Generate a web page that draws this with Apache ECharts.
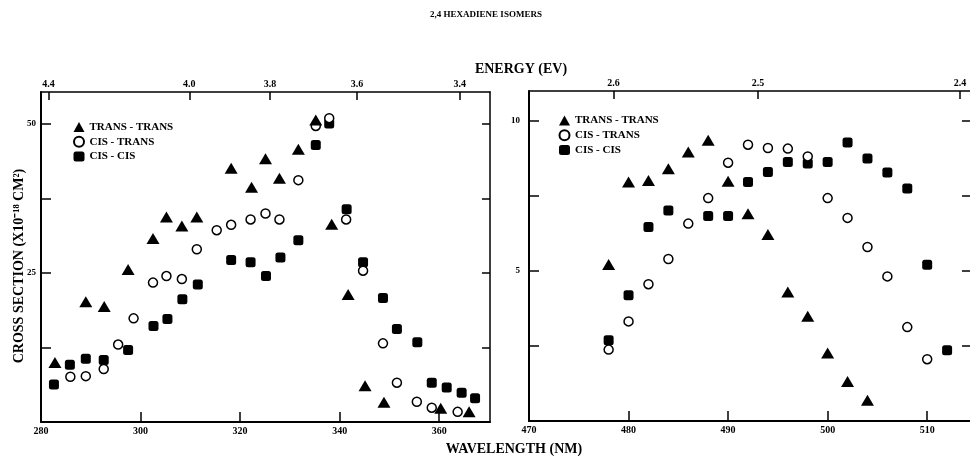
<!DOCTYPE html>
<html>
<head>
<meta charset="utf-8">
<script src="https://cdn.jsdelivr.net/npm/echarts@6/dist/echarts.min.js"></script>
<style>
html,body{margin:0;padding:0;background:#fff;}
#chart{width:970px;height:461px;}
</style>
</head>
<body>
<div id="chart"></div>
<script>
// ---------- DATA ----------
const seriesNames = ['TRANS - TRANS', 'CIS - TRANS', 'CIS - CIS'];

// Left panel (wavelength nm, cross section)
const leftTransTrans = [[282.8,10.0],[289.0,20.2],[292.7,19.4],[297.5,25.6],[302.5,30.8],[305.2,34.4],[308.3,32.9],[311.3,34.4],[318.2,42.6],[322.3,39.4],[325.1,44.2],[327.9,40.9],[331.7,45.8],[335.2,50.7],[338.4,33.2],[341.7,21.4],[345.1,6.1],[348.9,3.3],[360.3,2.3],[366.0,1.7]];
const leftCisTrans = [[285.9,7.6],[289.0,7.7],[292.6,8.9],[295.5,13.0],[298.6,17.4],[302.5,23.4],[305.2,24.5],[308.3,24.0],[311.3,29.0],[315.3,32.2],[318.2,33.1],[322.1,34.0],[325.1,35.0],[327.9,34.0],[331.7,40.6],[335.2,49.7],[337.9,51.0],[341.3,34.0],[344.7,25.4],[348.7,13.2],[351.5,6.6],[355.5,3.4],[358.5,2.4],[363.7,1.7]];
const leftCisCis = [[282.6,6.3],[285.8,9.6],[289.0,10.6],[292.6,10.4],[297.5,12.1],[302.6,16.1],[305.4,17.3],[308.4,20.6],[311.5,23.1],[318.2,27.2],[322.1,26.8],[325.2,24.5],[328.1,27.6],[331.7,30.5],[335.2,46.5],[337.9,50.1],[341.4,35.7],[344.7,26.8],[348.7,20.8],[351.5,15.6],[355.6,13.4],[358.5,6.6],[361.5,5.8],[364.5,4.9],[367.2,4.0]];

// Right panel
const rightTransTrans = [[478,5.22],[480,7.97],[482,8.02],[484,8.41],[486,8.97],[488,9.36],[490,7.99],[492,6.91],[494,6.22],[496,4.30],[498,3.49],[500,2.27],[502,1.32],[504,0.69]];
const rightCisTrans = [[478,2.38],[480,3.32],[482,4.56],[484,5.40],[486,6.58],[488,7.43],[490,8.61],[492,9.21],[494,9.10],[496,9.08],[498,8.82],[500,7.43],[502,6.77],[504,5.80],[506,4.82],[508,3.13],[510,2.06]];
const rightCisCis = [[478,2.69],[480,4.19],[482,6.47],[484,7.02],[488,6.83],[490,6.83],[492,7.97],[494,8.30],[496,8.63],[498,8.58],[500,8.63],[502,9.28],[504,8.75],[506,8.28],[508,7.75],[510,5.21],[512,2.36]];

// Axis ticks / labels
const leftWlTicks = [300, 320, 340, 360];
const leftWlLabels = [280, 300, 320, 340, 360];
const rightWlTicks = [480, 490, 500, 510];
const rightWlLabels = [470, 480, 490, 500, 510];
const leftYTicks = [12.5, 25, 37.5, 50];
const leftYLabels = [25, 50];
const rightYTicks = [2.5, 5, 7.5, 10];
const rightYLabels = [5, 10];
// Energy (top) axis: tick positions on the wavelength scale and their labels
const leftEnergyPos = [281.5, 309.8, 326.0, 343.5, 364.1];
const leftEnergyLabels = ['4.4', '4.0', '3.8', '3.6', '3.4'];
const rightEnergyPos = [478.5, 493.0, 513.3];
const rightEnergyLabels = ['2.6', '2.5', '2.4'];

// ---------- CHART ----------
const FONT = 'Liberation Serif';
const BLACK = '#000';
const chart = echarts.init(document.getElementById('chart'), null, {renderer: 'canvas'});

function nearestLabel(v, pos, labels) {
  let best = 0;
  for (let i = 1; i < pos.length; i++) if (Math.abs(pos[i] - v) < Math.abs(pos[best] - v)) best = i;
  return labels[best];
}

function xBottom(grid, min, max, ticks, labels) {
  return {
    type: 'value', gridIndex: grid, position: 'bottom', min: min, max: max,
    axisLine: {show: true, onZero: false, lineStyle: {color: BLACK, width: 2}},
    axisTick: {show: true, inside: true, length: 10, customValues: ticks, lineStyle: {color: BLACK, width: 1.5}},
    axisLabel: {show: true, customValues: labels, margin: 4, color: BLACK, fontFamily: FONT, fontWeight: 'bold', fontSize: 10},
    splitLine: {show: false}
  };
}
function xTop(grid, min, max, pos, labels) {
  return {
    type: 'value', gridIndex: grid, position: 'top', min: min, max: max,
    axisLine: {show: true, onZero: false, lineStyle: {color: BLACK, width: 1.5}},
    axisTick: {show: true, inside: true, length: 8, customValues: pos, lineStyle: {color: BLACK, width: 1.5}},
    axisLabel: {show: true, customValues: pos, margin: 3, color: BLACK, fontFamily: FONT, fontWeight: 'bold', fontSize: 10,
      formatter: (v) => nearestLabel(v, pos, labels)},
    splitLine: {show: false}
  };
}
function yLeft(grid, max, ticks, labels, margin) {
  return {
    type: 'value', gridIndex: grid, position: 'left', min: 0, max: max,
    axisLine: {show: true, onZero: false, lineStyle: {color: BLACK, width: 2}},
    axisTick: {show: true, inside: true, length: 10, customValues: ticks, lineStyle: {color: BLACK, width: 1.5}},
    axisLabel: {show: true, customValues: labels, margin: margin, color: BLACK, fontFamily: FONT, fontWeight: 'bold', fontSize: 9},
    splitLine: {show: false}
  };
}
function yRight(grid, max, ticks, showLine) {
  return {
    type: 'value', gridIndex: grid, position: 'right', min: 0, max: max,
    axisLine: {show: showLine, onZero: false, lineStyle: {color: BLACK, width: 1.5}},
    axisTick: {show: true, inside: true, length: 8, customValues: ticks, lineStyle: {color: BLACK, width: 1.5}},
    axisLabel: {show: false},
    splitLine: {show: false}
  };
}

const triStyle = {symbol: 'triangle', symbolSize: [13, 11], itemStyle: {color: BLACK, opacity: 1}};
const circStyle = {symbol: 'circle', symbolSize: 9, itemStyle: {color: '#fff', borderColor: BLACK, borderWidth: 1.5, opacity: 1}};
const sqStyle = {symbol: 'roundRect', symbolSize: 10, itemStyle: {color: BLACK, opacity: 1}};

function sc(name, style, xi, yi, data, z) {
  return Object.assign({type: 'scatter', name: name, xAxisIndex: xi, yAxisIndex: yi, data: data, z: z,
    emphasis: {disabled: true}, animation: false}, style);
}

const legendBase = {
  orient: 'vertical', itemWidth: 11, itemHeight: 10, itemGap: 3.3, padding: 0,
  textStyle: {color: BLACK, fontFamily: FONT, fontWeight: 'bold', fontSize: 11},
  data: seriesNames, selectedMode: false
};

const titleText = (s) => ({color: BLACK, fontFamily: FONT, fontWeight: 'bold', fontSize: s});

chart.setOption({
  backgroundColor: '#fff',
  animation: false,
  textStyle: {fontFamily: FONT},
  title: [
    {text: '2,4 HEXADIENE ISOMERS', left: 486, top: 10, padding: 0, textAlign: 'center', textStyle: titleText(9)},
    {text: 'ENERGY (EV)', left: 521, top: 62, padding: 0, textAlign: 'center', textStyle: titleText(14)},
    {text: 'WAVELENGTH (NM)', left: 514, top: 442, padding: 0, textAlign: 'center', textStyle: titleText(14)}
  ],
  graphic: [
    {type: 'text', x: 19, y: 266, rotation: Math.PI / 2,
      style: {text: 'CROSS SECTION (X10⁻¹⁸ CM²)', fill: BLACK, font: 'bold 14px "Liberation Serif"',
        textAlign: 'center', textVerticalAlign: 'middle'}}
  ],
  legend: [
    Object.assign({left: 73, top: 121.5}, legendBase),
    Object.assign({left: 558.5, top: 115}, legendBase)
  ],
  grid: [
    {left: 41, top: 92, width: 449, height: 330},
    {left: 529, top: 91, width: 441, height: 330}
  ],
  xAxis: [
    xBottom(0, 280, 370.2, leftWlTicks, leftWlLabels),
    xTop(0, 280, 370.2, leftEnergyPos, leftEnergyLabels),
    xBottom(1, 470, 514.3, rightWlTicks, rightWlLabels),
    xTop(1, 470, 514.3, rightEnergyPos, rightEnergyLabels)
  ],
  yAxis: [
    yLeft(0, 55.4, leftYTicks, leftYLabels, 5),
    yRight(0, 55.4, leftYTicks, true),
    yLeft(1, 11, rightYTicks, rightYLabels, 9),
    yRight(1, 11, rightYTicks, false)
  ],
  series: [
    sc(seriesNames[2], sqStyle, 0, 0, leftCisCis, 2),
    sc(seriesNames[1], circStyle, 0, 0, leftCisTrans, 3),
    sc(seriesNames[0], triStyle, 0, 0, leftTransTrans, 4),
    sc(seriesNames[2], sqStyle, 2, 2, rightCisCis, 2),
    sc(seriesNames[1], circStyle, 2, 2, rightCisTrans, 3),
    sc(seriesNames[0], triStyle, 2, 2, rightTransTrans, 4)
  ]
});
</script>
</body>
</html>
